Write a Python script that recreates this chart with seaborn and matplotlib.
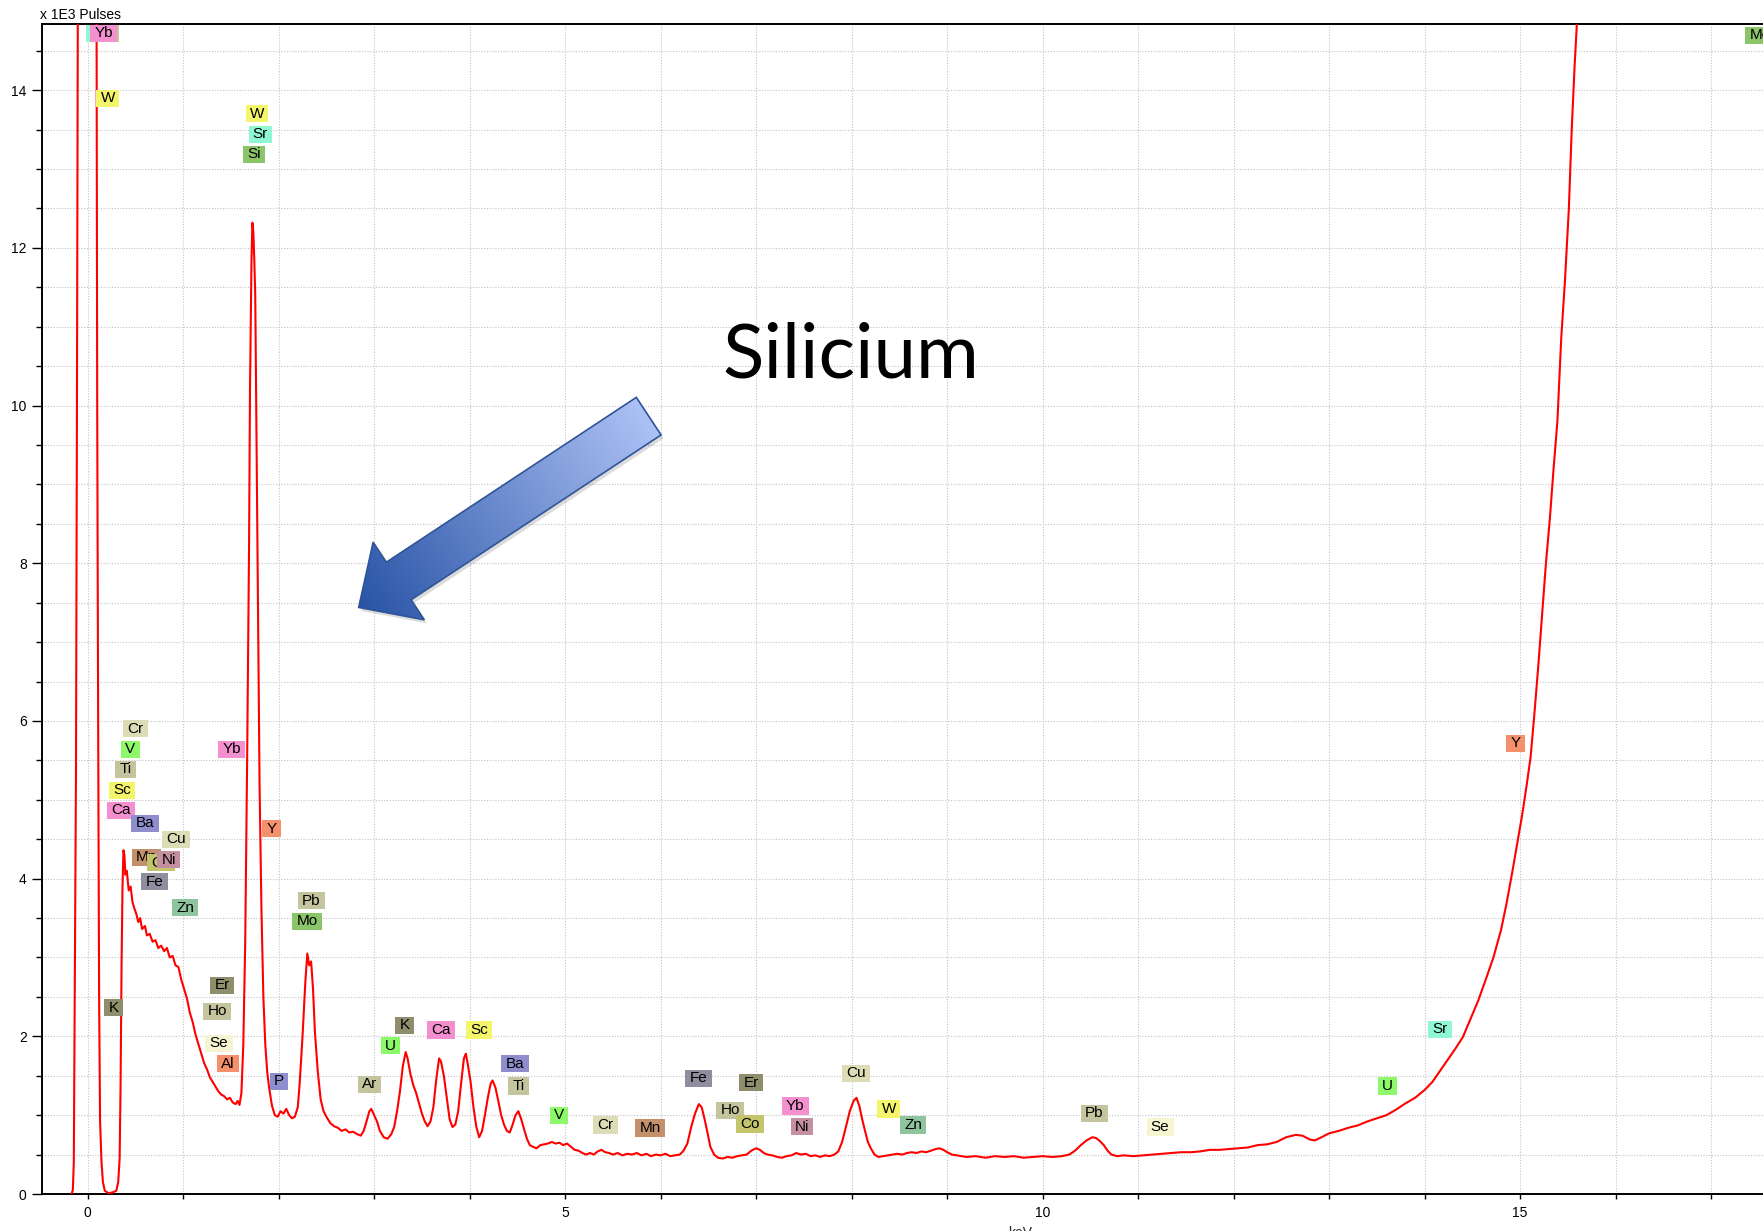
import numpy as np
import pandas as pd
import matplotlib
matplotlib.use("Agg")
import matplotlib.pyplot as plt
import seaborn as sns
from matplotlib.patches import Polygon
from matplotlib.path import Path
from matplotlib.ticker import MultipleLocator
from matplotlib.transforms import IdentityTransform

# ---------------- data ----------------
energy_kev = [
    -0.17, -0.155, -0.145, -0.135, -0.122, -0.112, -0.105, -0.10, 0.00, 0.09,
    0.094, 0.10, 0.11, 0.12, 0.13, 0.145, 0.16, 0.18, 0.22, 0.26,
    0.30, 0.32, 0.335, 0.345, 0.355, 0.365, 0.375, 0.385, 0.395, 0.41,
    0.43, 0.45, 0.47, 0.49, 0.51, 0.53, 0.55, 0.57, 0.60, 0.62,
    0.65, 0.68, 0.71, 0.74, 0.77, 0.80, 0.83, 0.86, 0.89, 0.92,
    0.95, 0.98, 1.01, 1.04, 1.07, 1.10, 1.13, 1.16, 1.19, 1.22,
    1.25, 1.28, 1.31, 1.34, 1.37, 1.40, 1.43, 1.46, 1.49, 1.52,
    1.55, 1.57, 1.59, 1.61, 1.63, 1.65, 1.67, 1.69, 1.70, 1.715,
    1.725, 1.735, 1.745, 1.755, 1.765, 1.775, 1.79, 1.80, 1.82, 1.84,
    1.86, 1.88, 1.90, 1.93, 1.96, 1.99, 2.02, 2.05, 2.08, 2.11,
    2.14, 2.17, 2.20, 2.22, 2.25, 2.28, 2.30, 2.32, 2.34, 2.36,
    2.38, 2.41, 2.44, 2.47, 2.50, 2.54, 2.58, 2.62, 2.66, 2.70,
    2.74, 2.78, 2.82, 2.86, 2.89, 2.92, 2.95, 2.97, 3.00, 3.03,
    3.06, 3.10, 3.14, 3.18, 3.21, 3.24, 3.27, 3.30, 3.33, 3.35,
    3.38, 3.41, 3.44, 3.47, 3.50, 3.53, 3.56, 3.59, 3.62, 3.65,
    3.68, 3.70, 3.73, 3.76, 3.79, 3.82, 3.85, 3.88, 3.91, 3.94,
    3.96, 3.98, 4.01, 4.04, 4.07, 4.10, 4.13, 4.16, 4.19, 4.22,
    4.24, 4.27, 4.30, 4.33, 4.36, 4.39, 4.42, 4.45, 4.48, 4.51,
    4.54, 4.57, 4.60, 4.63, 4.66, 4.70, 4.74, 4.78, 4.82, 4.86,
    4.90, 4.94, 4.98, 5.02, 5.06, 5.10, 5.14, 5.18, 5.22, 5.26,
    5.30, 5.34, 5.38, 5.42, 5.46, 5.50, 5.55, 5.60, 5.65, 5.70,
    5.75, 5.80, 5.85, 5.90, 5.95, 6.00, 6.05, 6.10, 6.15, 6.20,
    6.24, 6.28, 6.32, 6.36, 6.40, 6.43, 6.46, 6.49, 6.52, 6.56,
    6.60, 6.65, 6.70, 6.75, 6.80, 6.85, 6.90, 6.95, 7.00, 7.04,
    7.08, 7.12, 7.17, 7.22, 7.27, 7.32, 7.37, 7.42, 7.47, 7.52,
    7.57, 7.62, 7.67, 7.72, 7.77, 7.82, 7.86, 7.90, 7.94, 7.98,
    8.02, 8.05, 8.08, 8.11, 8.14, 8.17, 8.20, 8.24, 8.28, 8.33,
    8.38, 8.43, 8.48, 8.53, 8.58, 8.63, 8.68, 8.73, 8.78, 8.83,
    8.88, 8.92, 8.96, 9.00, 9.05, 9.10, 9.15, 9.20, 9.30, 9.40,
    9.50, 9.60, 9.70, 9.80, 9.90, 10.00, 10.10, 10.20, 10.28, 10.34,
    10.40, 10.46, 10.52, 10.56, 10.60, 10.64, 10.68, 10.72, 10.78, 10.85,
    10.95, 11.05, 11.15, 11.25, 11.35, 11.45, 11.55, 11.65, 11.75, 11.85,
    11.95, 12.05, 12.15, 12.25, 12.35, 12.45, 12.55, 12.65, 12.72, 12.80,
    12.85, 12.92, 13.00, 13.10, 13.20, 13.30, 13.40, 13.50, 13.60, 13.70,
    13.80, 13.90, 14.00, 14.08, 14.16, 14.24, 14.32, 14.40, 14.48, 14.56,
    14.64, 14.72, 14.80, 14.86, 14.92, 14.97, 15.02, 15.07, 15.11, 15.15,
    15.19, 15.23, 15.27, 15.31, 15.35, 15.39, 15.43, 15.47, 15.51, 15.54,
    15.57, 15.60, 15.65,
]
pulses_k = [
    0.00, 0.05, 0.40, 2.50, 5.40, 10.0, 14.0, 16.5, 30.0, 16.5,
    14.5, 10.0, 6.0, 2.5, 0.93, 0.41, 0.15, 0.04, 0.01, 0.02,
    0.04, 0.15, 0.45, 1.40, 2.90, 3.90, 4.36, 4.30, 4.05, 4.10,
    3.85, 3.90, 3.70, 3.62, 3.55, 3.45, 3.50, 3.36, 3.40, 3.28,
    3.30, 3.20, 3.22, 3.12, 3.15, 3.08, 3.12, 3.00, 3.02, 2.90,
    2.88, 2.72, 2.60, 2.48, 2.30, 2.18, 2.02, 1.90, 1.78, 1.66,
    1.58, 1.48, 1.42, 1.36, 1.30, 1.26, 1.24, 1.20, 1.22, 1.16,
    1.14, 1.18, 1.13, 1.28, 1.90, 3.20, 5.50, 8.20, 10.2, 11.8,
    12.32, 12.2, 11.85, 11.4, 10.0, 8.5, 6.6, 5.2, 3.6, 2.5,
    1.90, 1.55, 1.35, 1.12, 1.00, 0.98, 1.05, 1.02, 1.08, 1.00,
    0.96, 0.98, 1.10, 1.40, 2.00, 2.70, 3.05, 2.90, 2.95, 2.60,
    2.05, 1.55, 1.20, 1.05, 0.98, 0.90, 0.86, 0.84, 0.80, 0.82,
    0.78, 0.79, 0.76, 0.74, 0.80, 0.92, 1.05, 1.08, 1.00, 0.92,
    0.80, 0.72, 0.70, 0.76, 0.85, 1.05, 1.30, 1.62, 1.80, 1.72,
    1.52, 1.38, 1.28, 1.15, 1.02, 0.92, 0.86, 0.92, 1.10, 1.45,
    1.72, 1.68, 1.50, 1.22, 0.95, 0.85, 0.88, 1.05, 1.40, 1.72,
    1.78, 1.65, 1.42, 1.10, 0.85, 0.72, 0.80, 1.00, 1.22, 1.40,
    1.44, 1.35, 1.18, 1.00, 0.88, 0.80, 0.78, 0.88, 1.00, 1.05,
    0.95, 0.82, 0.70, 0.62, 0.60, 0.58, 0.62, 0.63, 0.64, 0.66,
    0.64, 0.65, 0.62, 0.64, 0.60, 0.56, 0.55, 0.52, 0.50, 0.52,
    0.50, 0.54, 0.56, 0.53, 0.52, 0.50, 0.52, 0.49, 0.51, 0.50,
    0.52, 0.49, 0.51, 0.48, 0.50, 0.49, 0.51, 0.48, 0.49, 0.50,
    0.55, 0.64, 0.85, 1.02, 1.14, 1.10, 0.95, 0.78, 0.60, 0.50,
    0.46, 0.45, 0.47, 0.46, 0.48, 0.49, 0.50, 0.55, 0.58, 0.56,
    0.52, 0.50, 0.49, 0.47, 0.46, 0.48, 0.49, 0.52, 0.50, 0.51,
    0.48, 0.49, 0.47, 0.49, 0.48, 0.50, 0.54, 0.66, 0.85, 1.05,
    1.18, 1.22, 1.12, 0.95, 0.80, 0.66, 0.58, 0.50, 0.47, 0.48,
    0.49, 0.50, 0.51, 0.50, 0.52, 0.53, 0.52, 0.54, 0.53, 0.55,
    0.57, 0.58, 0.56, 0.53, 0.50, 0.49, 0.48, 0.47, 0.48, 0.46,
    0.48, 0.47, 0.48, 0.46, 0.47, 0.48, 0.47, 0.48, 0.50, 0.55,
    0.62, 0.68, 0.72, 0.71, 0.67, 0.62, 0.55, 0.50, 0.48, 0.49,
    0.48, 0.49, 0.50, 0.51, 0.52, 0.53, 0.53, 0.54, 0.56, 0.56,
    0.57, 0.58, 0.59, 0.62, 0.63, 0.66, 0.72, 0.75, 0.74, 0.69,
    0.68, 0.72, 0.77, 0.80, 0.84, 0.87, 0.92, 0.96, 1.00, 1.07,
    1.15, 1.22, 1.32, 1.42, 1.56, 1.70, 1.84, 1.99, 2.22, 2.45,
    2.72, 3.00, 3.35, 3.70, 4.10, 4.45, 4.80, 5.20, 5.55, 6.10,
    6.70, 7.35, 8.00, 8.55, 9.20, 9.80, 10.85, 11.60, 12.50, 13.50,
    14.30, 15.00, 16.00,
]

label_symbols = [
    "Sr", "Ti", "Yb", "W", "W", "Sr", "Si",
    "Cr", "V", "Ti", "Sc", "Ca", "Ba", "Cu", "Mn", "Co", "Ni", "Fe", "Zn",
    "Yb", "Y", "Pb", "Mo", "Er", "K", "Ho", "Se", "Al", "P",
    "Ar", "K", "U", "Ca", "Sc", "Ba", "Ti", "V", "Cr", "Mn", "Fe", "Er",
    "Ho", "Co", "Yb", "Ni", "Cu", "W", "Zn", "Pb", "Se", "U", "Sr", "Y", "Mo",
]
label_kev = [
    0.107, 0.222, 0.17, 0.21, 1.773, 1.809, 1.741,
    0.50, 0.448, 0.396, 0.359, 0.349, 0.60, 0.925, 0.616, 0.768, 0.851, 0.70, 1.019,
    1.511, 1.925, 2.343, 2.296, 1.406, 0.27, 1.354, 1.375, 1.469, 2.003,
    2.951, 3.317, 3.171, 3.70, 4.098, 4.474, 4.51, 4.935, 5.422, 5.888, 6.396, 6.946,
    6.726, 6.935, 7.41, 7.48, 8.045, 8.39, 8.642, 10.54, 11.23, 13.61, 14.16, 14.95, 17.51,
]
label_level = [
    14.72, 14.72, 14.72, 13.90, 13.70, 13.44, 13.19,
    5.90, 5.64, 5.39, 5.12, 4.87, 4.70, 4.50, 4.27, 4.20, 4.24, 3.96, 3.63,
    5.64, 4.63, 3.72, 3.46, 2.65, 2.36, 2.32, 1.91, 1.65, 1.43,
    1.39, 2.14, 1.88, 2.08, 2.08, 1.65, 1.37, 1.00, 0.875, 0.837, 1.47, 1.41,
    1.06, 0.888, 1.116, 0.856, 1.534, 1.078, 0.875, 1.027, 0.85, 1.37, 2.09, 5.72, 14.70,
]

element_colors = {
    "Yb": "#f490cf", "W": "#f5f56c", "Sr": "#8ff8d2", "Si": "#8cc46a",
    "Cr": "#dcdcb6", "V": "#8cf86a", "Ti": "#c4c49e", "Sc": "#f5f56c",
    "Ca": "#f490cf", "Ba": "#8e8ecf", "Cu": "#dcdcb6", "Mn": "#c4906c",
    "Co": "#c4c46c", "Ni": "#c490a0", "Fe": "#8e8e9e", "Zn": "#8ec49e",
    "K": "#8e8e6c", "Er": "#8e8e6c", "Ho": "#c4c49e", "Se": "#f5f5d2",
    "Al": "#f5906c", "Y": "#f5906c", "P": "#8e8ecf", "Pb": "#c4c49e",
    "Mo": "#8cc46a", "U": "#8cf86a", "Ar": "#c4c49e",
}

# ---------------- figure ----------------
sns.set_theme(style="white")
plt.rcParams['font.family'] = ['Liberation Sans', 'DejaVu Sans']

W, H, DPI = 1763, 1231, 100
fig = plt.figure(figsize=(W / DPI, H / DPI), dpi=DPI)
fig.patch.set_facecolor("white")

x0_px, y0_px, y_top_px = 42, 1194, 24
px_per_kev = 95.5
xmin, xmax = -0.478, 20.0
ax_w_px = (xmax - xmin) * px_per_kev
ax = fig.add_axes([x0_px / W, 1 - y0_px / H, ax_w_px / W, (y0_px - y_top_px) / H])
ax.set_facecolor("white")

df = pd.DataFrame({"keV": energy_kev, "pulses": pulses_k})
sns.lineplot(data=df, x="keV", y="pulses", ax=ax, color="#ff0000",
             linewidth=1.5, estimator=None, sort=False, zorder=3)

ax.set_xlim(xmin, xmax)
ax.set_ylim(0, 14.84)
ax.xaxis.set_major_locator(MultipleLocator(5))
ax.xaxis.set_minor_locator(MultipleLocator(1))
ax.yaxis.set_major_locator(MultipleLocator(2))
ax.yaxis.set_minor_locator(MultipleLocator(0.5))
ax.grid(which="both", color="#c4c4c4", linestyle=(0, (1, 1.5)), linewidth=0.8)
ax.set_axisbelow(True)

for side in ["top", "left", "bottom"]:
    ax.spines[side].set_visible(True)
    ax.spines[side].set_color("black")
    ax.spines[side].set_linewidth(1.4)
ax.spines["right"].set_visible(False)

ax.tick_params(axis="x", which="both", bottom=True, direction="out",
               length=3.8, width=1.0, color="black", labelsize=10,
               labelcolor="black", pad=5)
ax.tick_params(axis="y", which="major", left=True, direction="out",
               length=7, width=1.0, color="black", labelsize=10,
               labelcolor="black", pad=4)
ax.tick_params(axis="y", which="minor", left=True, direction="out",
               length=4.2, width=1.0, color="black")
ax.set_xlabel("keV", fontsize=10, labelpad=4)
ax.set_ylabel("")

# ---------------- element labels ----------------
def label_box(x0, y0, width, height, mutation_size):
    px = 0.28 * mutation_size
    py = 0.10 * mutation_size
    xa, xb = x0 - px, x0 + width + px
    ya, yb = y0 - py, y0 + height + py
    return Path([(xa, ya), (xb, ya), (xb, yb), (xa, yb), (xa, ya)], closed=True)

for i, (sym, xk, yk) in enumerate(zip(label_symbols, label_kev, label_level)):
    ax.text(xk, yk, sym, ha="center", va="center", fontsize=11, color="black",
            zorder=10 + i * 0.01, clip_on=True,
            bbox=dict(boxstyle=label_box, fc=element_colors[sym], ec="none"))

# ---------------- annotation: Silicium + arrow ----------------
ax.text(6.652, 10.35, "Silicium", fontsize=55, family=["Lato", "DejaVu Sans"],
        ha="left", va="baseline", color="black", zorder=20)

tip = np.array(ax.transData.transform((2.838, 7.44)))
tail = np.array(ax.transData.transform((5.875, 9.866)))
u = (tip - tail) / np.linalg.norm(tip - tail)
n = np.array([-u[1], u[0]])
bw, hw, hl = 22.5, 46.5, 48.0
base = tip - u * hl
pts = np.array([tail + n * bw, base + n * bw, base + n * hw, tip,
                base - n * hw, base - n * bw, tail - n * bw])

shadow = Polygon(pts + np.array([2.5, -3.5]), closed=True, transform=IdentityTransform(),
                 fc=(0, 0, 0, 0.14), ec="none", zorder=30)
fig.add_artist(shadow)

xs0, ys0 = np.floor(pts.min(axis=0)).astype(int)
xs1, ys1 = np.ceil(pts.max(axis=0)).astype(int)
gx, gy = np.meshgrid(np.arange(xs0, xs1 + 1), np.arange(ys0, ys1 + 1))
L = np.linalg.norm(tip - tail)
t = ((gx - tail[0]) * u[0] + (gy - tail[1]) * u[1]) / L
t = np.clip(t, 0, 1)
c_light = np.array([0.68, 0.76, 0.96])
c_dark = np.array([0.16, 0.33, 0.65])
img = c_light[None, None, :] * (1 - t[..., None]) + c_dark[None, None, :] * t[..., None]
im = fig.figimage(img, xo=xs0, yo=ys0, origin="lower", zorder=31)
clip_poly = Polygon(pts, closed=True, transform=IdentityTransform())
im.set_clip_path(clip_poly)

edge = Polygon(pts, closed=True, transform=IdentityTransform(),
               fc="none", ec="#2f5597", lw=1.2, zorder=32)
fig.add_artist(edge)

# ---------------- axis unit text ----------------
fig.text(40 / W, 1 - 19 / H, "x 1E3 Pulses", fontsize=10, ha="left",
         va="baseline", color="black")

fig.savefig("out.png", dpi=DPI, facecolor="white")
